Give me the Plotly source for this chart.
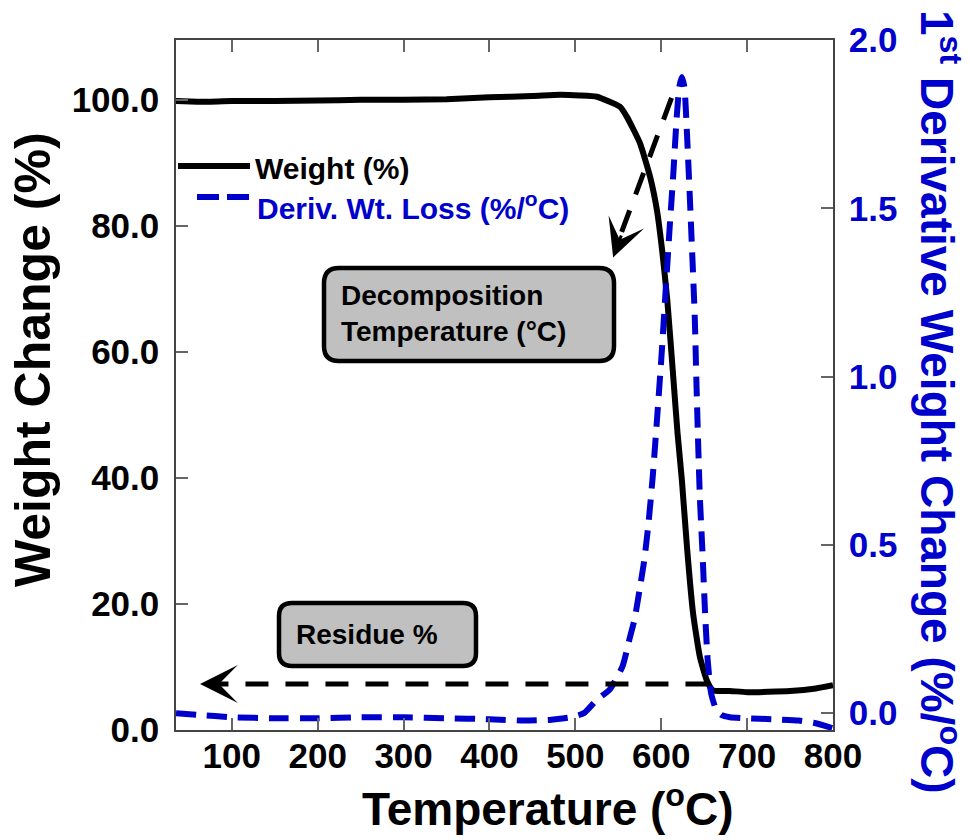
import plotly.graph_objects as go

# ---- data -------------------------------------------------------------
temp_weight = [35, 60, 100, 150, 200, 250, 300, 350, 400, 450, 482, 505, 525,
               540, 552, 560, 575, 587, 595, 601, 607, 614, 619, 624, 630, 637,
               645, 653, 660, 680, 700, 750, 780, 800]
weight_pct = [99.8, 99.7, 99.8, 99.8, 99.9, 100.0, 100.0, 100.1, 100.4, 100.6,
              100.8, 100.7, 100.5, 99.7, 98.9, 97.3, 93.2, 87.8, 82.5, 76.2,
              68.3, 56.0, 47.1, 39.7, 29.0, 18.6, 11.6, 7.9, 6.3, 6.2, 6.0,
              6.2, 6.6, 7.1]

temp_deriv = [35, 60, 100, 150, 200, 250, 300, 350, 400, 440, 470, 495, 510,
              525, 540, 555, 563, 569, 575, 580, 585, 590, 595, 600, 605, 610,
              614, 618, 621, 624, 627, 630, 633, 636, 639, 641, 643, 645, 648,
              651, 654, 658, 664, 670, 680, 700, 730, 760, 780, 800]
deriv_rate = [0.0, -0.005, -0.012, -0.015, -0.015, -0.012, -0.012, -0.015,
              -0.018, -0.022, -0.02, -0.012, 0.0, 0.04, 0.07, 0.14, 0.22, 0.28,
              0.37, 0.45, 0.56, 0.70, 0.87, 1.05, 1.25, 1.45, 1.60, 1.77, 1.86,
              1.89, 1.86, 1.72, 1.55, 1.37, 1.18, 0.98, 0.80, 0.64, 0.48, 0.30,
              0.16, 0.06, 0.01, -0.005, -0.012, -0.015, -0.018, -0.022, -0.03,
              -0.045]

residue_pct = 7.3
residue_from_temp = 655
residue_to_temp = 63
decomp_from = (612, 100.3)
decomp_to = (544, 75.0)

x_ticks = [100, 200, 300, 400, 500, 600, 700, 800]
weight_ticks = [0, 20, 40, 60, 80, 100]
deriv_ticks = [0.0, 0.5, 1.0, 1.5, 2.0]

# ---- layout helpers -------------------------------------------------------
FIG_W, FIG_H = 970, 840
ML, MR, MT, MB = 176, 137, 40, 110
PW = FIG_W - ML - MR
PH = FIG_H - MT - MB

BLUE = "#0000CD"
FONT = "Liberation Sans"


def px(x):
    return (x - ML) / PW


def py(y):
    return (FIG_H - MB - y) / PH


def rounded_box(x0, y0, x1, y1, r):
    return (f"M {px(x0 + r)},{py(y0)} L {px(x1 - r)},{py(y0)} "
            f"Q {px(x1)},{py(y0)} {px(x1)},{py(y0 + r)} "
            f"L {px(x1)},{py(y1 - r)} Q {px(x1)},{py(y1)} {px(x1 - r)},{py(y1)} "
            f"L {px(x0 + r)},{py(y1)} Q {px(x0)},{py(y1)} {px(x0)},{py(y1 - r)} "
            f"L {px(x0)},{py(y0 + r)} Q {px(x0)},{py(y0)} {px(x0 + r)},{py(y0)} Z")


fig = go.Figure()

fig.add_trace(go.Scatter(
    x=temp_weight, y=weight_pct, mode="lines", name="Weight (%)",
    line=dict(color="black", width=6, shape="spline", smoothing=0.5),
    yaxis="y", showlegend=False))

fig.add_trace(go.Scatter(
    x=temp_deriv, y=deriv_rate, mode="lines", name="Deriv. Wt. Loss (%/°C)",
    line=dict(color=BLUE, width=6, dash="20px,11px", shape="spline", smoothing=0.5),
    yaxis="y2", showlegend=False))

shapes = []
annotations = []

# legend samples
shapes.append(dict(type="line", xref="paper", yref="paper",
                   x0=px(178), x1=px(250), y0=py(166), y1=py(166),
                   line=dict(color="black", width=6)))
shapes.append(dict(type="line", xref="paper", yref="paper",
                   x0=px(197), x1=px(249), y0=py(197), y1=py(197),
                   line=dict(color=BLUE, width=6, dash="22px,8px")))
annotations.append(dict(xref="paper", yref="paper", x=px(253), y=py(168),
                        xanchor="left", yanchor="middle", showarrow=False,
                        text="Weight (%)",
                        font=dict(family=FONT, size=30, color="black", weight="bold")))
annotations.append(dict(xref="paper", yref="paper", x=px(255), y=py(206),
                        xanchor="left", yanchor="middle", showarrow=False,
                        text="Deriv. Wt. Loss (%/<sup>o</sup>C)",
                        font=dict(family=FONT, size=30, color=BLUE, weight="bold")))

# labelled boxes
shapes.append(dict(type="path", xref="paper", yref="paper",
                   path=rounded_box(324, 268, 614, 361, 15),
                   fillcolor="#C0C0C0", line=dict(color="black", width=4.5)))
shapes.append(dict(type="path", xref="paper", yref="paper",
                   path=rounded_box(279, 603, 476, 666, 13),
                   fillcolor="#C0C0C0", line=dict(color="black", width=4.5)))
annotations.append(dict(xref="paper", yref="paper", x=px(339), y=py(313),
                        xanchor="left", yanchor="middle", showarrow=False, align="left",
                        text="Decomposition<br>Temperature (°C)",
                        font=dict(family=FONT, size=28, color="black", weight="bold")))
annotations.append(dict(xref="paper", yref="paper", x=px(294), y=py(634),
                        xanchor="left", yanchor="middle", showarrow=False,
                        text="Residue %",
                        font=dict(family=FONT, size=28, color="black", weight="bold")))

# dashed pointer arrows
shapes.append(dict(type="line", xref="x", yref="y",
                   x0=residue_from_temp, x1=residue_to_temp + 20,
                   y0=residue_pct, y1=residue_pct,
                   line=dict(color="black", width=5, dash="23px,17px")))
annotations.append(dict(xref="x", yref="y", x=residue_to_temp, y=residue_pct,
                        ax=24, ay=0, text="", showarrow=True, arrowhead=3,
                        arrowsize=2.1, arrowwidth=3, arrowcolor="black", standoff=0))

shapes.append(dict(type="line", xref="x", yref="y",
                   x0=decomp_from[0], x1=decomp_to[0] + 9,
                   y0=decomp_from[1], y1=decomp_to[1] + 3.7,
                   line=dict(color="black", width=5, dash="23px,17px")))
annotations.append(dict(xref="x", yref="y", x=decomp_to[0], y=decomp_to[1],
                        ax=8.7, ay=-23.4, text="", showarrow=True, arrowhead=3,
                        arrowsize=2.1, arrowwidth=3, arrowcolor="black", standoff=0))

# axis titles
annotations.append(dict(xref="paper", yref="paper", x=px(33), y=py(360),
                        xanchor="center", yanchor="middle", showarrow=False,
                        textangle=-90, text="Weight Change (%)",
                        font=dict(family=FONT, size=50, color="black", weight="bold")))
annotations.append(dict(xref="paper", yref="paper", x=px(548), y=py(806),
                        xanchor="center", yanchor="middle", showarrow=False,
                        text="Temperature (<sup>o</sup>C)",
                        font=dict(family=FONT, size=46, color="black", weight="bold")))
annotations.append(dict(xref="paper", yref="paper", x=px(940), y=py(402),
                        xanchor="center", yanchor="middle", showarrow=False,
                        textangle=90,
                        text="1<sup>st</sup> Derivative Weight Change (%/<sup>o</sup>C)",
                        font=dict(family=FONT, size=46, color=BLUE, weight="bold")))

axis_common = dict(showgrid=False, zeroline=False, ticks="inside", ticklen=12,
                   tickwidth=1.5, tickcolor="#666666", showline=True,
                   linecolor="#444444", linewidth=1.5)

fig.update_layout(
    width=FIG_W, height=FIG_H,
    margin=dict(l=ML, r=MR, t=MT, b=MB, autoexpand=False),
    paper_bgcolor="white", plot_bgcolor="white",
    showlegend=False,
    xaxis=dict(range=[35, 800], tickvals=x_ticks, mirror="ticks",
               tickfont=dict(family=FONT, size=35, color="black", weight="bold"),
               ticklabelstandoff=-6, **axis_common),
    yaxis=dict(range=[0, 109.5], tickvals=weight_ticks, tickformat=".1f",
               tickfont=dict(family=FONT, size=35, color="black", weight="bold"),
               ticklabelstandoff=8, **axis_common),
    yaxis2=dict(range=[-0.05, 2.0], tickvals=deriv_ticks, tickformat=".1f",
                overlaying="y", side="right",
                tickfont=dict(family=FONT, size=35, color=BLUE, weight="bold"),
                ticklabelstandoff=7, **axis_common),
    shapes=shapes,
    annotations=annotations,
)

fig.write_html("out.html")
